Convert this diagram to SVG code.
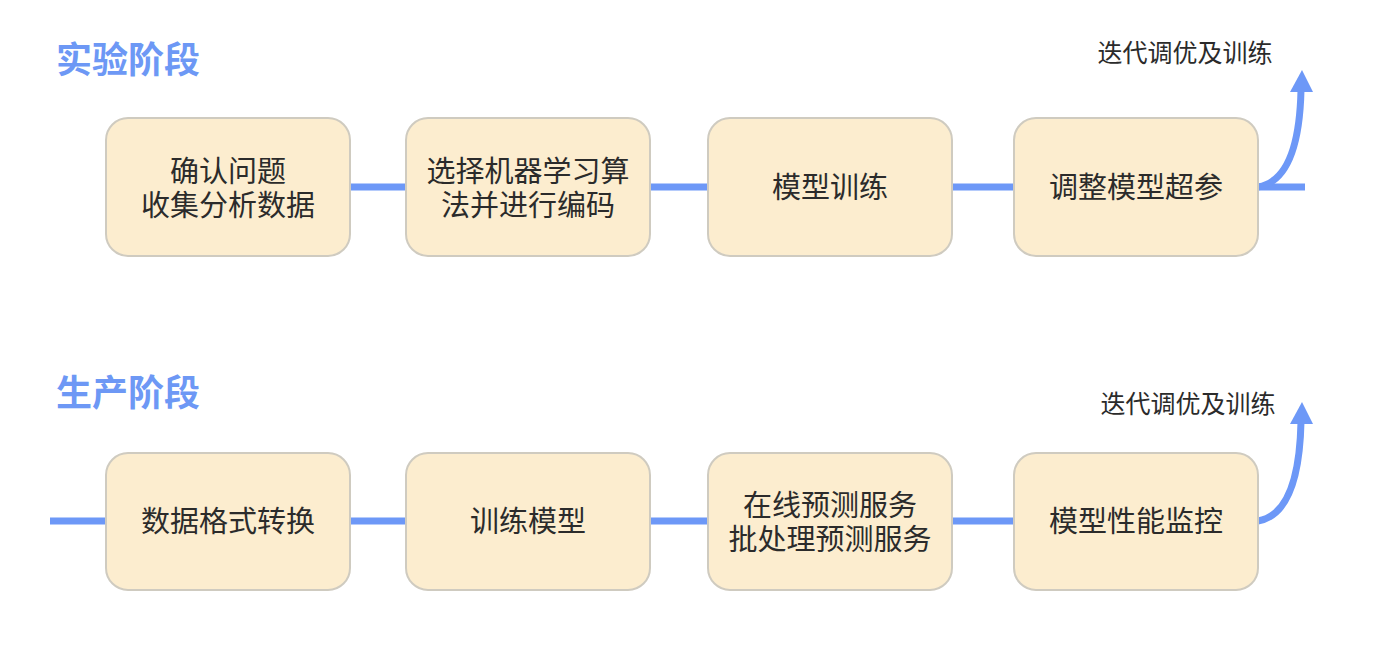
<svg xmlns="http://www.w3.org/2000/svg" width="1374" height="650" viewBox="0 0 1374 650">
<defs>
<style>
.box{fill:#fcedcf;stroke:#cfcbc0;stroke-width:2}
.t{font-family:"Noto Sans CJK SC","Noto Sans",sans-serif;font-size:29px;fill:#2b2b2b;text-anchor:middle}
.title{font-family:"Noto Sans CJK SC","Noto Sans",sans-serif;font-size:36px;font-weight:bold;fill:#6d98f5}
.lbl{font-family:"Noto Sans CJK SC","Noto Sans",sans-serif;font-size:25px;fill:#2b2b2b;text-anchor:middle}
.ln{stroke:#6d98f7;stroke-width:7;fill:none}
.ah{fill:#6d98f7}
</style>
</defs>
<rect width="1374" height="650" fill="#ffffff"/>
<text class="title" x="56" y="73">实验阶段</text>
<text class="title" x="56" y="406">生产阶段</text>
<g id="connectors">
<line class="ln" x1="350" y1="187" x2="406" y2="187"/>
<line class="ln" x1="650" y1="187" x2="708" y2="187"/>
<line class="ln" x1="952" y1="187" x2="1014" y2="187"/>
<line class="ln" x1="1258" y1="187" x2="1305" y2="187"/>
<path class="ln" d="M1258,187 Q1299,180 1301,90"/>
<path class="ah" d="M1290,92 L1302,70 L1313,92 Z"/>
<line class="ln" x1="50" y1="521" x2="106" y2="521"/>
<line class="ln" x1="350" y1="521" x2="406" y2="521"/>
<line class="ln" x1="650" y1="521" x2="708" y2="521"/>
<line class="ln" x1="952" y1="521" x2="1014" y2="521"/>
<path class="ln" d="M1258,521 Q1299,514 1301,422"/>
<path class="ah" d="M1290,424 L1302,402 L1313,424 Z"/>
</g>
<text class="lbl" x="1185" y="62">迭代调优及训练</text>
<text class="lbl" x="1188" y="413">迭代调优及训练</text>
<g id="n1"><rect class="box" x="106" y="118" width="244" height="138" rx="22"/>
<text class="t" x="228" y="182">确认问题<tspan x="228" dy="34">收集分析数据</tspan></text></g>
<g id="n2"><rect class="box" x="406" y="118" width="244" height="138" rx="22"/>
<text class="t" x="528" y="182">选择机器学习算<tspan x="528" dy="34">法并进行编码</tspan></text></g>
<g id="n3"><rect class="box" x="708" y="118" width="244" height="138" rx="22"/>
<text class="t" x="830" y="198">模型训练</text></g>
<g id="n4"><rect class="box" x="1014" y="118" width="244" height="138" rx="22"/>
<text class="t" x="1136" y="198">调整模型超参</text></g>
<g id="n5"><rect class="box" x="106" y="453" width="244" height="137" rx="22"/>
<text class="t" x="228" y="532">数据格式转换</text></g>
<g id="n6"><rect class="box" x="406" y="453" width="244" height="137" rx="22"/>
<text class="t" x="528" y="532">训练模型</text></g>
<g id="n7"><rect class="box" x="708" y="453" width="244" height="137" rx="22"/>
<text class="t" x="830" y="516">在线预测服务<tspan x="830" dy="34">批处理预测服务</tspan></text></g>
<g id="n8"><rect class="box" x="1014" y="453" width="244" height="137" rx="22"/>
<text class="t" x="1136" y="532">模型性能监控</text></g>
</svg>
